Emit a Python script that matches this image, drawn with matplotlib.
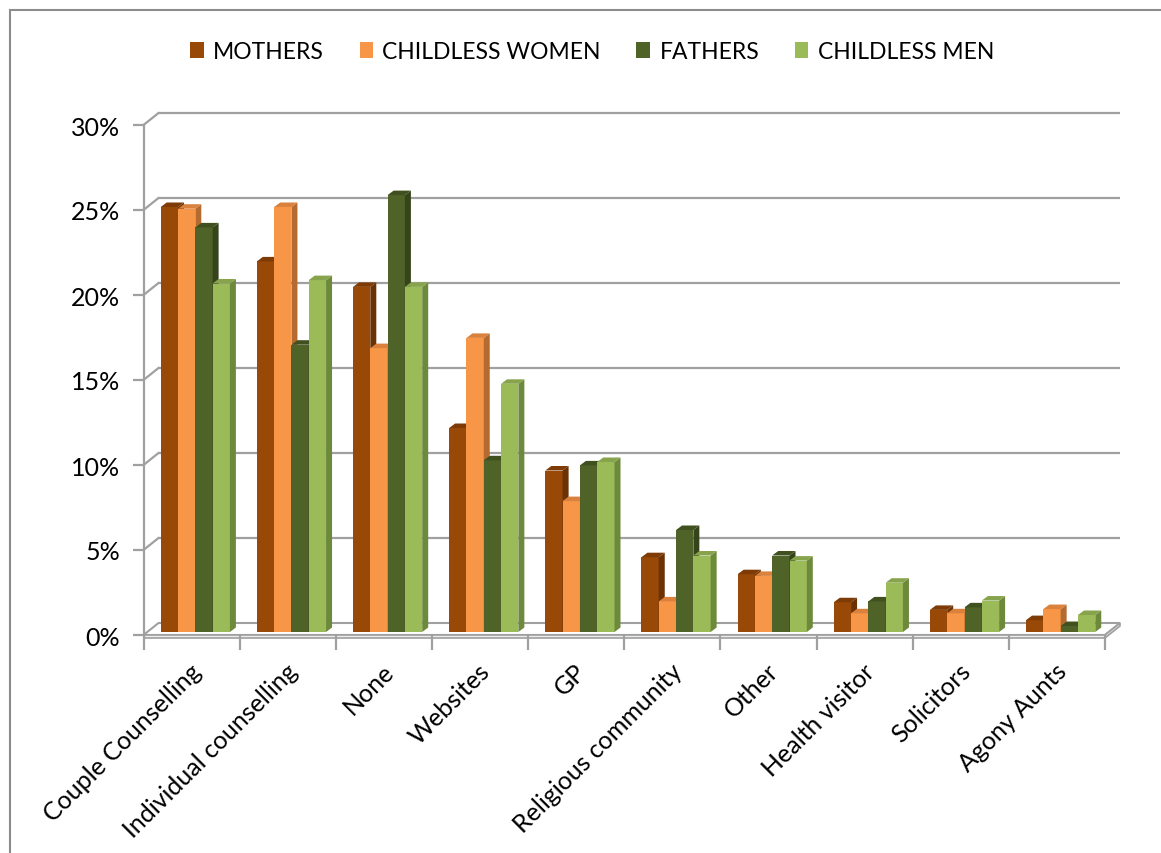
import matplotlib.pyplot as plt
from matplotlib.patches import Polygon, Rectangle, Patch
import numpy as np

plt.rcParams['font.family'] = ['Lato', 'DejaVu Sans']

# data (percent)
categories = ["Couple Counselling", "Individual counselling", "None", "Websites", "GP",
              "Religious community", "Other", "Health visitor", "Solicitors", "Agony Aunts"]
series_names = ["MOTHERS", "CHILDLESS WOMEN", "FATHERS", "CHILDLESS MEN"]
mothers = [25.0, 21.8, 20.3, 12.0, 9.5, 4.4, 3.4, 1.75, 1.3, 0.7]
childless_women = [24.9, 25.0, 16.7, 17.3, 7.7, 1.8, 3.3, 1.1, 1.1, 1.35]
fathers = [23.8, 16.9, 25.7, 10.1, 9.8, 6.0, 4.5, 1.8, 1.45, 0.35]
childless_men = [20.5, 20.7, 20.3, 14.6, 10.0, 4.5, 4.2, 2.9, 1.85, 1.0]
yticks = [0, 5, 10, 15, 20, 25, 30]

front_colors = ["#984807", "#F79646", "#4F6228", "#9BBB59"]
side_colors = ["#6A3205", "#B56B30", "#36441B", "#6D8A3C"]
top_colors = ["#7E3B06", "#D9813D", "#40501F", "#87A44C"]
grid_col = "#A0A0A0"

W, H = 1161, 854
fig = plt.figure(figsize=(W / 100, H / 100), dpi=100)
x_left, x_right = 143.5, 1105
y_zero, y_top = 636, 126
ax = fig.add_axes([x_left / W, 1 - y_zero / H, (x_right - x_left) / W, (y_zero - y_top) / H])
ax.set_xlim(-0.5, 9.5)
ax.set_ylim(0, 30)
kx = 10 / (x_right - x_left)   # data per pixel
ky = 30 / (y_zero - y_top)

# back wall + left wall
bw_dx, bw_dy = 15 * kx, 12 * ky
for v in yticks[1:]:
    ax.plot([-0.5 + bw_dx, 9.5 + bw_dx], [v + bw_dy] * 2, color=grid_col, lw=1.6,
            zorder=1, clip_on=False, solid_capstyle='butt')
    ax.plot([-0.5, -0.5 + bw_dx], [v, v + bw_dy], color=grid_col, lw=1.6, zorder=1, clip_on=False)

# floor plate
th = 3 * ky
floor_top = Polygon([(-0.5, 0), (9.5, 0), (9.5 + bw_dx, bw_dy), (-0.5 + bw_dx, bw_dy)],
                    closed=True, fc="white", ec=grid_col, lw=1.5, zorder=1.5, clip_on=False)
floor_front = Rectangle((-0.5, -th), 10, th, fc="#EDEDED", ec=grid_col, lw=1.2, zorder=1.5, clip_on=False)
floor_side = Polygon([(9.5, -th), (9.5 + bw_dx, bw_dy - th), (9.5 + bw_dx, bw_dy), (9.5, 0)],
                     closed=True, fc="#E0E0E0", ec=grid_col, lw=1.2, zorder=1.5, clip_on=False)
for p in (floor_top, floor_front, floor_side):
    ax.add_patch(p)

# bars
data = [mothers, childless_women, fathers, childless_men]
x = np.arange(len(categories))
w = 17.3 * kx
off = 17.2 * kx
base = 3 * ky
dep_x, dep_y = 6 * kx, 4.5 * ky
for j, vals in enumerate(data):
    z = 2 + j
    lefts = x - 0.5 + off + j * w
    ax.bar(lefts, vals, width=w, bottom=base, align='edge', color=front_colors[j],
           lw=0, zorder=z, clip_on=False)
    for x0, v in zip(lefts, vals):
        x1 = x0 + w
        top = base + v
        ax.add_patch(Polygon([(x1, base), (x1 + dep_x, base + dep_y), (x1 + dep_x, top + dep_y), (x1, top)],
                             closed=True, fc=side_colors[j], lw=0, zorder=z, clip_on=False))
        ax.add_patch(Polygon([(x0, top), (x1, top), (x1 + dep_x, top + dep_y), (x0 + dep_x, top + dep_y)],
                             closed=True, fc=top_colors[j], lw=0, zorder=z, clip_on=False))

# axes styling
for s in ["top", "right", "bottom"]:
    ax.spines[s].set_visible(False)
ax.spines["left"].set_color(grid_col)
ax.spines["left"].set_linewidth(1.6)
ax.set_yticks(yticks, labels=[f"{t}%" for t in yticks])
ax.tick_params(axis='y', length=8, width=1.6, color=grid_col, labelsize=18, pad=9)
ax.set_xticks(np.arange(-0.5, 10, 1), labels=[""] * 11)
ax.tick_params(axis='x', length=11, width=1.6, color=grid_col)
for i, cat in enumerate(categories):
    ax.text(i - 2 * kx, -24 * ky, cat, rotation=45, ha='right', va='top',
            rotation_mode='anchor', fontsize=18)
ax.patch.set_visible(False)

# outer chart border
fig.add_artist(Rectangle((10 / W, -0.05), 1.2, 1 - 11 / H + 0.05, transform=fig.transFigure,
                         fill=False, ec="#8C8C8C", lw=1.5))

handles = [Patch(facecolor=c) for c in front_colors]
fig.legend(handles, series_names, loc='center', bbox_to_anchor=(0.51, 0.938), ncol=4,
           frameon=False, fontsize=16.5, handlelength=0.6, handleheight=0.7,
           handletextpad=0.4, columnspacing=1.55)

fig.savefig("out.png", dpi=100)
